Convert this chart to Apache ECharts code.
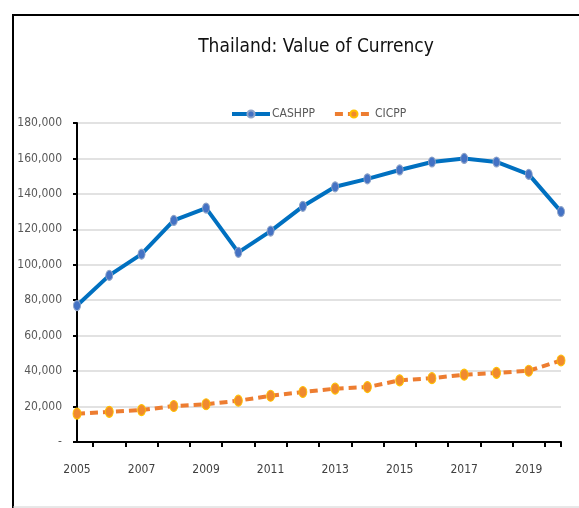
<!DOCTYPE html>
<html>
<head>
<meta charset="utf-8">
<title>Thailand: Value of Currency</title>
<script src="https://cdn.jsdelivr.net/npm/echarts@6/dist/echarts.min.js"></script>
<style>
  html, body { margin: 0; padding: 0; background: #fff; }
  #chart { width: 579px; height: 508px; }
</style>
</head>
<body>
<div id="chart"></div>
<script>
var years = [2005, 2006, 2007, 2008, 2009, 2010, 2011, 2012, 2013, 2014, 2015, 2016, 2017, 2018, 2019, 2020];
var cashpp = [77000, 94000, 106000, 125000, 132000, 107000, 119000, 133000, 144000, 148500, 153500, 158000, 160000, 158000, 151000, 130000];
var cicpp = [16000, 17000, 18000, 20300, 21300, 23300, 26100, 28200, 30100, 31000, 34800, 36000, 38000, 39000, 40200, 46000];
var yearLabels = [2005, 2007, 2009, 2011, 2013, 2015, 2017, 2019];

var narrow = '"DejaVu Sans Condensed", "Liberation Sans Narrow", "Noto Sans", sans-serif';

function pairs(vals) {
  return years.map(function (y, i) { return [y, vals[i]]; });
}

// excel puts the category ticks between the years
var tickPos = years.slice(0, -1).map(function (y) { return y + 0.5; });
tickPos.push(2020);

var myChart = echarts.init(document.getElementById('chart'));
var option = {
  backgroundColor: '#fff',
  animation: false,
  title: {
    text: 'Thailand: Value of Currency',
    left: 311,
    textAlign: 'center',
    top: 33,
    textStyle: { fontFamily: narrow, fontSize: 19, fontWeight: 'normal', color: '#111' }
  },
  legend: {
    left: 225,
    top: 103,
    itemWidth: 38,
    itemHeight: 9,
    itemGap: 18,
    lineStyle: { width: 4 },
    textStyle: { fontFamily: narrow, fontSize: 12, color: '#595959', padding: [0, 0, 0, -3] },
    data: ['CASHPP', 'CICPP']
  },
  grid: { left: 77, right: 18, top: 123, bottom: 66, containLabel: false },
  xAxis: {
    type: 'value',
    min: 2005,
    max: 2020,
    splitLine: { show: false },
    axisLine: { lineStyle: { color: '#000', width: 2 } },
    axisTick: { show: true, length: 5, lineStyle: { color: '#000', width: 2 }, customValues: tickPos },
    axisLabel: {
      customValues: yearLabels,
      margin: 22,
      fontFamily: narrow,
      fontSize: 12,
      color: '#404040',
      formatter: function (v) { return String(v); }
    }
  },
  yAxis: {
    type: 'value',
    min: 0,
    max: 180000,
    interval: 20000,
    axisLine: { show: true, lineStyle: { color: '#000', width: 2 } },
    axisTick: { show: true, length: 4, lineStyle: { color: '#000', width: 2 } },
    splitLine: { lineStyle: { color: '#d9d9d9', width: 1.5 } },
    axisLabel: {
      margin: 15,
      fontFamily: narrow,
      fontSize: 12,
      color: '#595959',
      formatter: function (v) { return v === 0 ? '-' : v.toLocaleString('en-US'); }
    }
  },
  series: [
    {
      name: 'CASHPP',
      type: 'line',
      data: pairs(cashpp),
      symbol: 'circle',
      symbolSize: [7, 10],
      lineStyle: { color: '#0070C0', width: 4 },
      itemStyle: { color: '#4472C4', borderColor: '#8ea3c8', borderWidth: 1 }
    },
    {
      name: 'CICPP',
      type: 'line',
      data: pairs(cicpp),
      symbol: 'circle',
      symbolSize: [8, 11],
      lineStyle: { color: '#ED7D31', width: 4, type: [8, 5] },
      itemStyle: { color: '#F08A2E', borderColor: '#FFC000', borderWidth: 1 }
    }
  ],
  graphic: [
    {
      type: 'rect',
      shape: { x: 13, y: 15, width: 640, height: 520 },
      style: { fill: 'none', stroke: '#000', lineWidth: 2 },
      silent: true
    },
    {
      type: 'line',
      shape: { x1: 13, y1: 507, x2: 579, y2: 507 },
      style: { stroke: '#d0d0d0', lineWidth: 1 },
      silent: true
    }
  ]
};
myChart.setOption(option);
</script>
</body>
</html>
